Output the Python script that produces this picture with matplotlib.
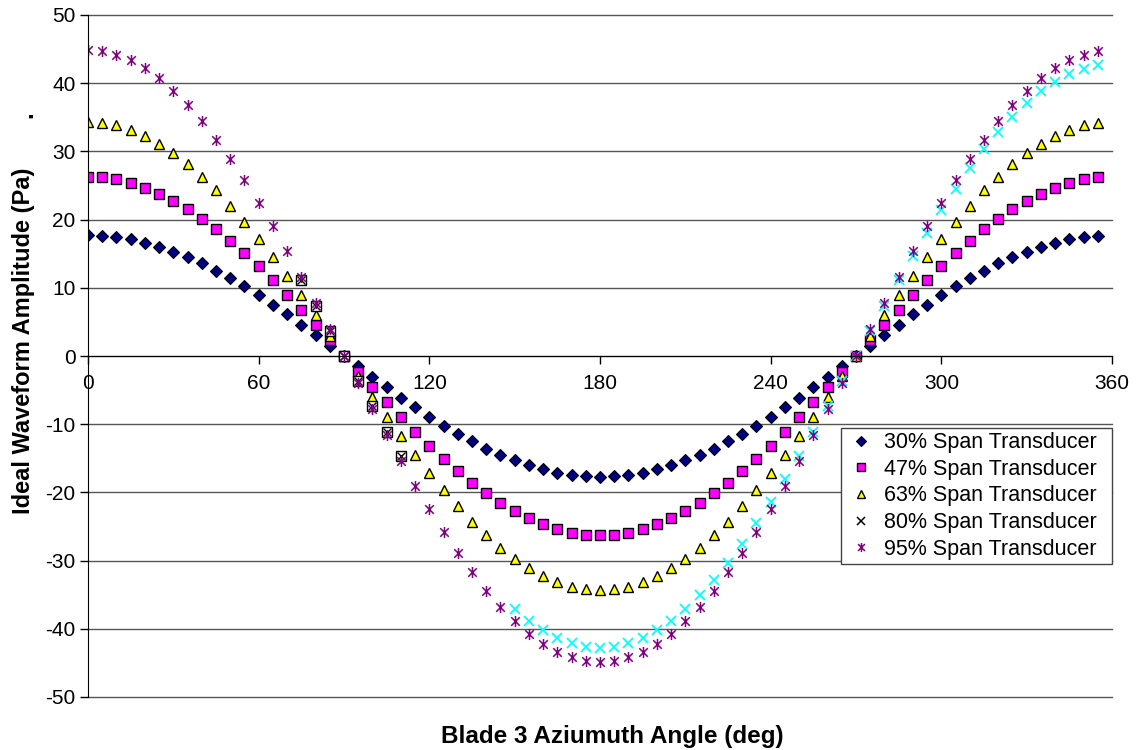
import numpy as np
import matplotlib
matplotlib.use("Agg")
import matplotlib.pyplot as plt
from matplotlib.path import Path

plt.rcParams["font.family"] = ["Liberation Sans", "DejaVu Sans"]
plt.rcParams["axes.unicode_minus"] = False

angle = list(range(0, 360, 5))

span30 = [17.7, 17.6, 17.4, 17.1, 16.6, 16.0, 15.3, 14.5, 13.6, 12.5, 11.4, 10.2, 8.9, 7.5, 6.1, 4.6, 3.1, 1.5, 0.0,
          -1.5, -3.1, -4.6, -6.1, -7.5, -8.9, -10.2, -11.4, -12.5, -13.6, -14.5, -15.3, -16.0, -16.6, -17.1, -17.4, -17.6, -17.7,
          -17.6, -17.4, -17.1, -16.6, -16.0, -15.3, -14.5, -13.6, -12.5, -11.4, -10.2, -8.9, -7.5, -6.1, -4.6, -3.1, -1.5, 0.0,
          1.5, 3.1, 4.6, 6.1, 7.5, 8.9, 10.2, 11.4, 12.5, 13.6, 14.5, 15.3, 16.0, 16.6, 17.1, 17.4, 17.6]

span47 = [26.3, 26.2, 25.9, 25.4, 24.7, 23.8, 22.8, 21.5, 20.1, 18.6, 16.9, 15.1, 13.2, 11.1, 9.0, 6.8, 4.6, 2.3, 0.0,
          -2.3, -4.6, -6.8, -9.0, -11.1, -13.2, -15.1, -16.9, -18.6, -20.1, -21.5, -22.8, -23.8, -24.7, -25.4, -25.9, -26.2, -26.3,
          -26.2, -25.9, -25.4, -24.7, -23.8, -22.8, -21.5, -20.1, -18.6, -16.9, -15.1, -13.2, -11.1, -9.0, -6.8, -4.6, -2.3, 0.0,
          2.3, 4.6, 6.8, 9.0, 11.1, 13.2, 15.1, 16.9, 18.6, 20.1, 21.5, 22.8, 23.8, 24.7, 25.4, 25.9, 26.2]

span63 = [34.3, 34.2, 33.8, 33.1, 32.2, 31.1, 29.7, 28.1, 26.3, 24.3, 22.0, 19.7, 17.2, 14.5, 11.7, 8.9, 6.0, 3.0, 0.0,
          -3.0, -6.0, -8.9, -11.7, -14.5, -17.2, -19.7, -22.0, -24.3, -26.3, -28.1, -29.7, -31.1, -32.2, -33.1, -33.8, -34.2, -34.3,
          -34.2, -33.8, -33.1, -32.2, -31.1, -29.7, -28.1, -26.3, -24.3, -22.0, -19.7, -17.2, -14.5, -11.7, -8.9, -6.0, -3.0, 0.0,
          3.0, 6.0, 8.9, 11.7, 14.5, 17.2, 19.7, 22.0, 24.3, 26.3, 28.1, 29.7, 31.1, 32.2, 33.1, 33.8, 34.2]

# 80% span: only partly visible in the reference (gaps left as NaN)
nan = np.nan
span80 = [nan, nan, nan, nan, nan, nan, nan, nan, nan, nan, nan, nan, nan, nan, nan, 11.1, 7.4, 3.7, 0.0,
          -3.7, -7.4, -11.1, -14.6, nan, nan, nan, nan, nan, nan, nan, -37.1, -38.8, -40.2, -41.3, -42.1, -42.6, -42.8,
          -42.6, -42.1, -41.3, -40.2, -38.8, -37.1, -35.1, -32.8, -30.3, -27.5, -24.5, -21.4, -18.1, -14.6, -11.1, -7.4, -3.7, 0.0,
          3.7, 7.4, 11.1, 14.6, 18.1, 21.4, 24.5, 27.5, 30.3, 32.8, 35.1, 37.1, 38.8, 40.2, 41.3, 42.1, 42.6]

span95 = [44.9, 44.7, 44.2, 43.4, 42.2, 40.7, 38.9, 36.8, 34.4, 31.7, 28.9, 25.8, 22.5, 19.0, 15.4, 11.6, 7.8, 3.9, 0.0,
          -3.9, -7.8, -11.6, -15.4, -19.0, -22.5, -25.8, -28.9, -31.7, -34.4, -36.8, -38.9, -40.7, -42.2, -43.4, -44.2, -44.7, -44.9,
          -44.7, -44.2, -43.4, -42.2, -40.7, -38.9, -36.8, -34.4, -31.7, -28.9, -25.8, -22.5, -19.0, -15.4, -11.6, -7.8, -3.9, 0.0,
          3.9, 7.8, 11.6, 15.4, 19.0, 22.5, 25.8, 28.9, 31.7, 34.4, 36.8, 38.9, 40.7, 42.2, 43.4, 44.2, 44.7]

labels = ["30% Span Transducer", "47% Span Transducer", "63% Span Transducer",
          "80% Span Transducer", "95% Span Transducer"]

# Excel-style asterisk: an x with a vertical stroke
STAR = Path([(-1, -1), (1, 1), (-1, 1), (1, -1), (0, -1.3), (0, 1.3)],
            [Path.MOVETO, Path.LINETO, Path.MOVETO, Path.LINETO, Path.MOVETO, Path.LINETO])

W, H = 1136, 750
fig = plt.figure(figsize=(W / 100, H / 100), dpi=100)
ax = fig.add_axes([88 / W, 1 - 697 / H, 1024 / W, 682 / H])

ax.set_xlim(0, 360)
ax.set_ylim(-50, 50)
ax.set_yticks(range(-50, 51, 10))
ax.set_xticks(range(0, 361, 60))
ax.yaxis.grid(True, color="#555555", lw=1.0)
for gl in ax.get_ygridlines():
    gl.set_clip_on(False)
ax.set_axisbelow(True)

ax.spines["top"].set_visible(False)
ax.spines["right"].set_visible(False)
ax.spines["bottom"].set_position(("data", 0))
ax.tick_params(axis="both", direction="out", length=6, width=1, labelsize=15, pad=3)
ax.tick_params(axis="x", pad=7)

a = np.array(angle)
h30, = ax.plot(a, span30, ls="none", marker="D", ms=5.8, mfc="#000080", mec="black", mew=0.8)
h47, = ax.plot(a, span47, ls="none", marker="s", ms=6.5, mfc="#FF00FF", mec="black", mew=1.0)
h63, = ax.plot(a, span63, ls="none", marker="^", ms=7, mfc="#FFFF00", mec="black", mew=1.0)
s80 = np.array(span80)
early = a <= 110
ax.plot(a[early], s80[early], ls="none", marker="s", ms=6.5, mfc="white", mec="black", mew=1.0)
ax.plot(a[early], s80[early], ls="none", marker="x", ms=5.5, mec="black", mew=1.0)
ax.plot(a[~early], s80[~early], ls="none", marker="x", ms=6.5, mec="#00FFFF", mew=1.3)
h95, = ax.plot(a, span95, ls="none", marker=STAR, ms=8, mec="#800080", mfc="#800080", mew=1.1)

h80, = ax.plot([], [], ls="none", marker="x", ms=6.5, mec="black", mew=1.1)
leg = ax.legend([h30, h47, h63, h80, h95], labels, loc="upper left", mode="expand",
                bbox_to_anchor=(841 / W, 1 - 562 / H, 271 / W, 134 / H), bbox_transform=fig.transFigure,
                fontsize=15.5, frameon=True, fancybox=False, framealpha=1,
                handlelength=1.5, handletextpad=0.3, borderpad=0.2, labelspacing=0.26,
                borderaxespad=0, markerscale=0.8)
leg.get_frame().set_edgecolor("#444444")
leg.get_frame().set_linewidth(1.0)

fig.text(612 / W, 1 - 737 / H, "Blade 3 Aziumuth Angle (deg)", ha="center", va="center",
         fontsize=17.5, fontweight="bold")
fig.text(24 / W, 1 - 341 / H, "Ideal Waveform Amplitude (Pa)", ha="center", va="center",
         rotation=90, fontsize=17, fontweight="bold")
fig.text(26 / W, 1 - 115 / H, ".", ha="center", va="center",
         rotation=90, fontsize=17, fontweight="bold")

fig.savefig("out.png", dpi=100, facecolor="white")
